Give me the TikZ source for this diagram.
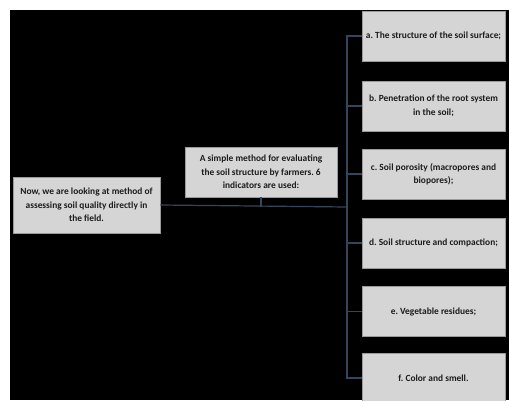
\documentclass[tikz,border=0pt]{standalone}
\usepackage{fontspec}
\setmainfont{Carlito}
\definecolor{boxfill}{HTML}{D5D5D5}
\definecolor{boxline}{HTML}{9A9A9A}
\definecolor{conncol}{HTML}{34475A}
\definecolor{txt}{HTML}{1C1C1C}
\frenchspacing
\begin{document}
\begin{tikzpicture}[x=1pt,y=-1pt,
  box/.style={draw=boxline,line width=0.6pt,fill=boxfill,rectangle,align=center,
    inner sep=2pt,text=txt,font=\bfseries\fontsize{9.4}{13.5}\selectfont},
  rbox/.style={box,minimum width=143pt,minimum height=50pt},
  conn/.style={draw=conncol,line width=1.2pt}]
\useasboundingbox (0,0) rectangle (509,400);
\fill[white] (0,0) rectangle (509,400);
\fill[black] (10,10) rectangle (509,400);
\begin{scope}
\clip (10,10) rectangle (509,400);
\coordinate (j) at (347,207);
\node[box,minimum width=147pt,minimum height=56pt] (left) at (86.5,205)
  {Now, we are looking at method of\\assessing soil quality directly in\\the field.};
\node[box,minimum width=152pt,minimum height=50pt] (mid) at (261,172)
  {A simple method for evaluating\\the soil structure by farmers. 6\\indicators are used:};
\node[rbox] (a) at (433.5,36) {a. The structure of the soil surface;};
\node[rbox] (b) at (433.5,106) {b. Penetration of the root system\\in the soil;};
\node[rbox] (c) at (433.5,174) {c. Soil porosity (macropores and\\biopores);};
\node[rbox] (d) at (433.5,243) {d. Soil structure and compaction;};
\node[rbox] (e) at (433.5,311.5) {e. Vegetable residues;};
\node[rbox] (f) at (433.5,378) {f. Color and smell.};
\draw[conn] (left.east) -- (j);
\draw[conn] (mid.south) -- (mid.south |- j);
\foreach \n in {a,b,c,d,e,f} \draw[conn] (\n.west) -| (j);
\end{scope}
\end{tikzpicture}
\end{document}
